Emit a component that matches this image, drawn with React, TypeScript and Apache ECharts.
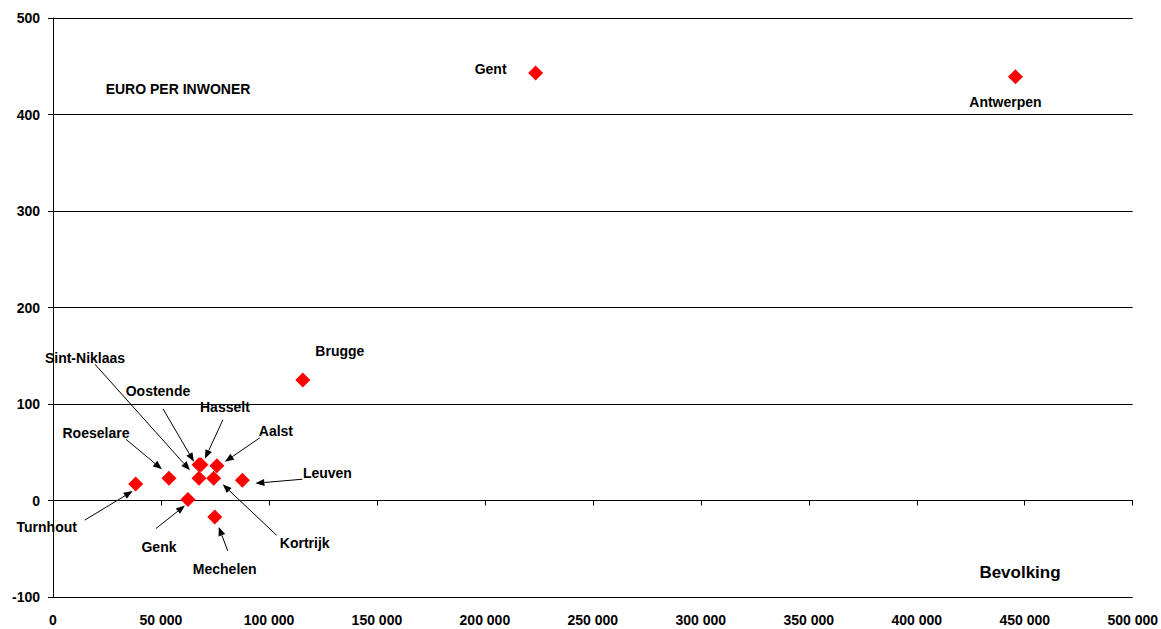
import React, { useEffect, useRef } from "react";
import * as echarts from "echarts";

// Flemish centre cities: population vs. euro per inhabitant
const cities = [
  "Antwerpen", "Gent", "Brugge", "Leuven", "Aalst", "Hasselt", "Oostende",
  "Sint-Niklaas", "Kortrijk", "Mechelen", "Genk", "Roeselare", "Turnhout",
];
const population = [
  445700, 223500, 115700, 87700, 75900, 68500, 67600,
  67600, 74400, 74900, 62500, 53700, 38300,
];
const euroPerInhabitant = [439, 443, 125, 21, 36, 37, 37, 23, 23, -17, 1, 23, 17];

const xTicks = { min: 0, max: 500000, interval: 50000 };
const yTicks = { min: -100, max: 500, interval: 100 };

// Label placement relative to each marker (pixels): label centre, arrow start, arrow end
type Callout = { label: [number, number]; from?: [number, number]; to?: [number, number] };
const callouts: Record<string, Callout> = {
  Antwerpen: { label: [-10, 25] },
  Gent: { label: [-45, -4] },
  Brugge: { label: [37, -29] },
  Leuven: { label: [85, -7], from: [60, -1], to: [13, 3] },
  Aalst: { label: [59, -35], from: [43, -28], to: [8, -4] },
  Hasselt: { label: [24, -58], from: [22, -45], to: [4, -6] },
  Oostende: { label: [-41, -74], from: [-36, -56], to: [-5, -3] },
  "Sint-Niklaas": { label: [-114, -120], from: [-104, -114], to: [-9, -8] },
  Kortrijk: { label: [91, 65], from: [63, 57], to: [9, 6] },
  Mechelen: { label: [10, 52], from: [13, 34], to: [4, 10] },
  Genk: { label: [-29, 47], from: [-32, 29], to: [-3, 6] },
  Roeselare: { label: [-73, -45], from: [-43, -39], to: [-7, -9] },
  Turnhout: { label: [-89, 43], from: [-51, 36], to: [-3, 7] },
};

const FONT = "'Liberation Sans', Arial, sans-serif";

const thousands = (v: number) =>
  String(v).replace(/\B(?=(\d{3})+(?!\d))/g, " ");

export default function App() {
  const ref = useRef<HTMLDivElement>(null);

  useEffect(() => {
    if (!ref.current) return;
    const chart = echarts.init(ref.current, undefined, { renderer: "svg" });

    const axisText = {
      color: "#000",
      fontWeight: "bold" as const,
      fontSize: 14,
      fontFamily: FONT,
    };

    chart.setOption({
      animation: false,
      backgroundColor: "#fff",
      grid: { left: 53, right: 28, top: 18, bottom: 32, containLabel: false },
      xAxis: [
        {
          type: "value",
          ...xTicks,
          axisLine: { onZero: true, lineStyle: { color: "#000", width: 1 } },
          axisTick: { show: true, length: 5, lineStyle: { color: "#000" } },
          axisLabel: { show: false },
          splitLine: { show: false },
        },
        {
          type: "value",
          ...xTicks,
          position: "bottom",
          axisLine: { show: false, onZero: false },
          axisTick: { show: false },
          axisLabel: { ...axisText, margin: 16, formatter: (v: number) => thousands(v) },
          splitLine: { show: false },
        },
      ],
      yAxis: {
        type: "value",
        ...yTicks,
        axisLine: { show: true, lineStyle: { color: "#000", width: 1 } },
        axisTick: { show: true, length: 5, lineStyle: { color: "#000" } },
        axisLabel: { ...axisText, margin: 13 },
        splitLine: { show: true, lineStyle: { color: "#000", width: 1 } },
      },
      series: [
        {
          type: "scatter",
          xAxisIndex: 0,
          yAxisIndex: 0,
          symbol: "diamond",
          symbolSize: 15,
          itemStyle: { color: "#ff0000", opacity: 1 },
          data: cities.map((name, i) => ({ name, value: [population[i], euroPerInhabitant[i]] })),
        },
      ],
    });

    const graphics: any[] = [
      {
        type: "text",
        x: 178,
        y: 89,
        style: {
          text: "EURO PER INWONER",
          font: `bold 14px ${FONT}`,
          fill: "#000",
          align: "center",
          verticalAlign: "middle",
        },
      },
      {
        type: "text",
        x: 1020,
        y: 572,
        style: {
          text: "Bevolking",
          font: `bold 17px ${FONT}`,
          fill: "#000",
          align: "center",
          verticalAlign: "middle",
        },
      },
    ];

    cities.forEach((name, i) => {
      const p = chart.convertToPixel({ xAxisIndex: 0, yAxisIndex: 0 }, [
        population[i],
        euroPerInhabitant[i],
      ]) as number[];
      const c = callouts[name];
      graphics.push({
        type: "text",
        x: p[0] + c.label[0],
        y: p[1] + c.label[1],
        style: {
          text: name,
          font: `bold 14px ${FONT}`,
          fill: "#000",
          align: "center",
          verticalAlign: "middle",
        },
        z: 10,
      });
      if (c.from && c.to) {
        const x1 = p[0] + c.from[0];
        const y1 = p[1] + c.from[1];
        const x2 = p[0] + c.to[0];
        const y2 = p[1] + c.to[1];
        const ang = Math.atan2(y2 - y1, x2 - x1);
        const len = 9;
        const half = 3.5;
        const bx = x2 - len * Math.cos(ang);
        const by = y2 - len * Math.sin(ang);
        const nx = -Math.sin(ang);
        const ny = Math.cos(ang);
        graphics.push({
          type: "line",
          shape: { x1, y1, x2: bx, y2: by },
          style: { stroke: "#000", lineWidth: 1 },
          z: 10,
        });
        graphics.push({
          type: "polygon",
          shape: {
            points: [
              [x2, y2],
              [bx + nx * half, by + ny * half],
              [bx - nx * half, by - ny * half],
            ],
          },
          style: { fill: "#000" },
          z: 10,
        });
      }
    });

    chart.setOption({ graphic: graphics });

    return () => chart.dispose();
  }, []);

  return (
    <div
      ref={ref}
      style={{ position: "absolute", left: 0, top: 0, width: 1161, height: 629, background: "#fff" }}
    />
  );
}
